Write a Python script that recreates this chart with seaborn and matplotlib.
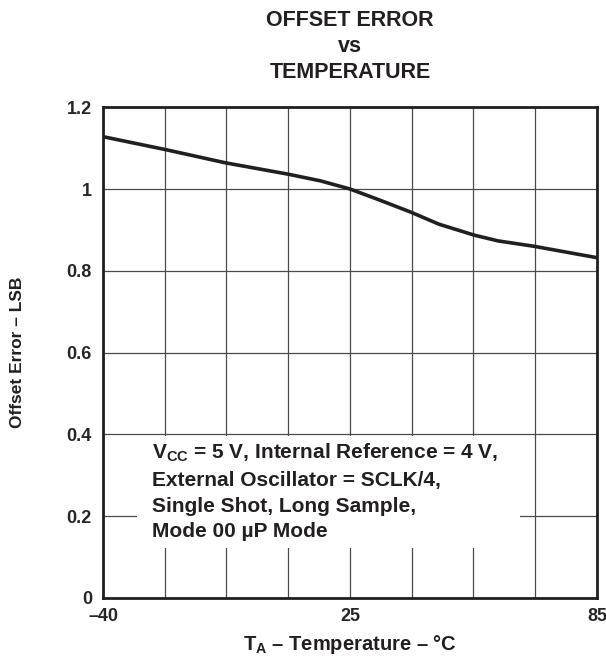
import numpy as np
import pandas as pd
import matplotlib
matplotlib.use("Agg")
import matplotlib.pyplot as plt
from matplotlib.patches import Rectangle
import seaborn as sns

# values (x in degC, y in LSB)
temps = [-40, -24, -9, 7, 15, 22.5, 30, 38, 45, 54, 60, 69, 85]
offset_lsb = [1.128, 1.096, 1.064, 1.036, 1.02, 1.0, 0.973, 0.943, 0.914, 0.887, 0.873, 0.860, 0.832]

x_grid = np.linspace(-40, 85, 9)
x_labels = ["\u201340", "", "", "", "25", "", "", "", "85"]
y_ticks = [0, 0.2, 0.4, 0.6, 0.8, 1.0, 1.2]
y_labels = ["0", "0.2", "0.4", "0.6", "0.8", "1", "1.2"]

sns.set_style("white")
plt.rcParams["font.family"] = ["Liberation Sans", "DejaVu Sans"]
plt.rcParams["font.weight"] = "bold"
plt.rcParams["mathtext.fontset"] = "custom"
plt.rcParams["mathtext.rm"] = "Liberation Sans:bold"
plt.rcParams["mathtext.it"] = "Liberation Sans:bold"
plt.rcParams["mathtext.bf"] = "Liberation Sans:bold"

ink = "#231f20"
df = pd.DataFrame({"temp": temps, "offset": offset_lsb})

fig = plt.figure(figsize=(6.06, 6.62), dpi=100)
ax = fig.add_axes([0.170, 0.097, 0.815, 0.741])

sns.lineplot(data=df, x="temp", y="offset", color=ink, linewidth=2.6, ax=ax, zorder=3)

ax.set_xlim(-40, 85)
ax.set_ylim(0, 1.2)
ax.set_xticks(x_grid)
ax.set_xticklabels(x_labels)
ax.set_yticks(y_ticks)
ax.set_yticklabels(y_labels)
ax.tick_params(length=0, labelsize=13)
ax.tick_params(axis="y", pad=8)
ax.tick_params(axis="x", pad=7)
for lab in ax.get_xticklabels() + ax.get_yticklabels():
    lab.set_fontweight("bold")

ax.set_axisbelow(True)
ax.grid(True, color="#4a4a4a", linewidth=0.9)
for s in ax.spines.values():
    s.set_color(ink)
    s.set_linewidth(2)

# white panel behind the conditions text
ax.add_patch(Rectangle((0.069, 0.102), 0.775, 0.227, transform=ax.transAxes,
                       facecolor="white", edgecolor="none", zorder=1.5))
cond = ("$\\mathrm{V_{CC}}$ = 5 V, Internal Reference = 4 V,\n"
        "External Oscillator = SCLK/4,\n"
        "Single Shot, Long Sample,\n"
        "Mode 00 \u00b5P Mode")
ax.text(0.099, 0.318, cond, transform=ax.transAxes, ha="left", va="top",
        fontsize=15, fontweight="bold", color=ink, linespacing=1.45, zorder=4)

ax.set_xlabel("$\\mathrm{T_A}$ \u2013 Temperature \u2013 \u00b0C", fontsize=14.5,
              fontweight="bold", color=ink, labelpad=6)
ax.set_ylabel("Offset Error \u2013 LSB", fontsize=12.5, fontweight="bold", color=ink)
ax.yaxis.set_label_coords(-0.158, 0.5)
ax.set_title("OFFSET ERROR\nvs\nTEMPERATURE", fontsize=15.5, fontweight="bold",
             color=ink, linespacing=1.3, pad=21)

fig.savefig("out.png", dpi=100)
